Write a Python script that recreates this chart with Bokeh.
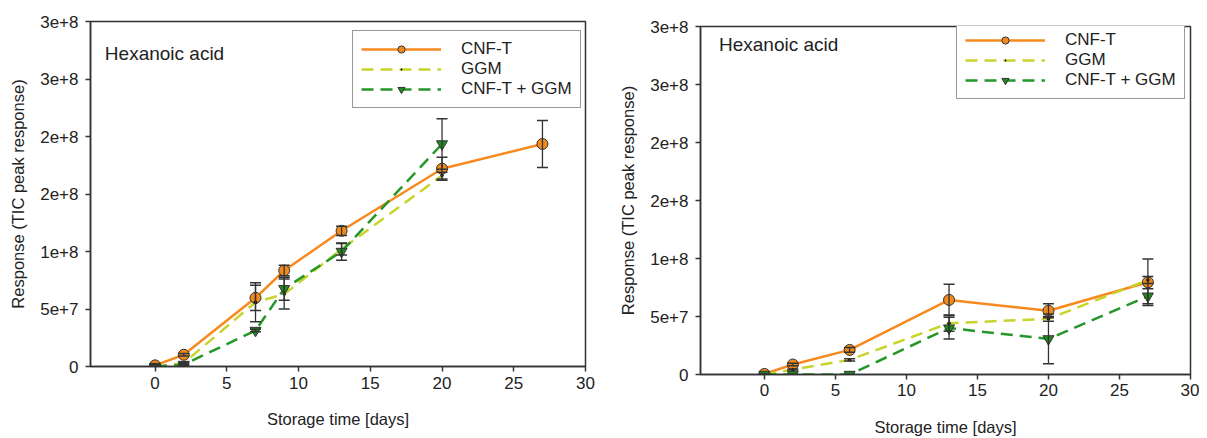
from bokeh.plotting import figure
from bokeh.models import (ColumnDataSource, Whisker, TeeHead, FixedTicker, Legend,
                          LegendItem, Label, Range1d, Spacer)
from bokeh.layouts import row, column
from bokeh.embed import file_html
from bokeh.resources import INLINE

# ---------------- data ----------------
# Left panel
days_a = [0, 2, 7, 9, 13, 20, 27]
cnf_a = [0.1e7, 1.02e7, 5.97e7, 8.35e7, 1.18e8, 1.72e8, 1.935e8]
cnf_a_err = [0.1e7, 0.1e7, 1.1e7, 0.45e7, 0.4e7, 1.0e7, 2.05e7]
days_a2 = [0, 2, 7, 9, 13, 20]
ggm_a = [0.0, 0.3e7, 5.59e7, 6.3e7, 1.02e8, 1.66e8]
ggm_a_err = [0.0, 0.1e7, 1.7e7, 1.3e7, 0.5e7, 0.3e7]
mix_a = [0.0, 0.17e7, 3.13e7, 6.76e7, 1.0e8, 1.935e8]
mix_a_err = [0.0, 0.1e7, 0.1e7, 1.0e7, 0.75e7, 2.2e7]

# Right panel
days_b = [0, 2, 6, 13, 20, 27]
cnf_b = [0.05e7, 0.86e7, 2.12e7, 6.43e7, 5.5e7, 7.95e7]
cnf_b_err = [0.0, 0.1e7, 0.2e7, 1.35e7, 0.6e7, 2.0e7]
ggm_b = [0.0, 0.43e7, 1.26e7, 4.42e7, 4.8e7, 8.15e7]
ggm_b_err = [0.0, 0.05e7, 0.1e7, 0.7e7, 0.2e7, 0.3e7]
mix_b = [0.0, 0.0, 0.0, 4.0e7, 3.07e7, 6.75e7]
mix_b_err = [0.0, 0.0, 0.0, 0.93e7, 2.15e7, 0.65e7]

series_names = ["CNF-T", "GGM", "CNF-T + GGM"]
panel_title = "Hexanoic acid"
x_label = "Storage time [days]"
y_label = "Response (TIC peak response)"
x_ticks = [0, 5, 10, 15, 20, 25, 30]
y_ticks = [0, 5e7, 1e8, 1.5e8, 2e8, 2.5e8, 3e8]
y_tick_labels = ["0", "5e+7", "1e+8", "2e+8", "2e+8", "3e+8", "3e+8"]

FONT = "Liberation Sans"
TXT = "#222222"
AX = "#333333"
C_ORANGE = "#F7891F"
C_ORANGE_FILL = "#F08A1C"
C_YG = "#C8D42C"
C_GREEN = "#24962A"
C_GREEN_FILL = "#1E8C1E"


def make_panel(width, height, mb_left, mb_right, mb_top, mb_bottom,
               xs1, s1, e1, xs2, s2, e2, xs3, s3, e3,
               legend_loc, title_xy, tick_standoff, xlab_standoff):
    p = figure(width=width, height=height, output_backend="svg",
               toolbar_location=None, x_range=Range1d(-4.5, 30),
               y_range=Range1d(0, 3e8), min_border_left=mb_left,
               min_border_right=mb_right, min_border_top=mb_top,
               min_border_bottom=mb_bottom)
    p.grid.visible = False
    p.outline_line_color = AX
    p.outline_line_width = 1.5
    p.background_fill_color = "white"

    p.xaxis.ticker = FixedTicker(ticks=x_ticks)
    p.yaxis.ticker = FixedTicker(ticks=y_ticks)
    p.yaxis.major_label_overrides = {v: l for v, l in zip(y_ticks, y_tick_labels)}
    for ax in (p.xaxis[0], p.yaxis[0]):
        ax.axis_line_color = AX
        ax.axis_line_width = 1.5
        ax.major_tick_line_color = AX
        ax.major_tick_line_width = 1.5
        ax.major_tick_in = 0
        ax.major_tick_out = 5
        ax.minor_tick_line_color = None
        ax.major_label_text_font = FONT
        ax.major_label_text_font_size = "17px"
        ax.major_label_text_color = TXT
        ax.axis_label_text_font = FONT
        ax.axis_label_text_font_size = "16.5px"
        ax.axis_label_text_font_style = "normal"
        ax.axis_label_text_color = TXT
    p.xaxis.axis_label = x_label
    p.yaxis.axis_label = y_label
    p.xaxis.major_label_standoff = tick_standoff
    p.xaxis.axis_label_standoff = xlab_standoff
    p.yaxis.major_label_standoff = 7
    p.yaxis.axis_label_standoff = 10

    # lines
    l1 = p.line(xs1, s1, line_color=C_ORANGE, line_width=2.5)
    l2 = p.line(xs2, s2, line_color=C_YG, line_width=2.5, line_dash="12 7")
    l3 = p.line(xs3, s3, line_color=C_GREEN, line_width=2.5, line_dash="12 7")

    # error bars
    for xs, s, e in ((xs1, s1, e1), (xs2, s2, e2), (xs3, s3, e3)):
        src = ColumnDataSource(dict(x=xs, lo=[a - b for a, b in zip(s, e)],
                                    hi=[a + b for a, b in zip(s, e)]))
        w = Whisker(base="x", lower="lo", upper="hi", source=src,
                    line_color=AX, line_width=1.3, level="overlay",
                    upper_head=TeeHead(size=11, line_color=AX, line_width=1.5),
                    lower_head=TeeHead(size=11, line_color=AX, line_width=1.5))
        p.add_layout(w)

    # markers
    m1 = p.scatter(xs1, s1, marker="circle", size=11, fill_color=C_ORANGE_FILL,
                   line_color=AX, line_width=1)
    m2 = p.scatter(xs2, s2, marker="dot", size=14, fill_color="black",
                   line_color="black", line_width=1)
    m3 = p.scatter(xs3, s3, marker="inverted_triangle", size=11,
                   fill_color=C_GREEN_FILL, line_color=AX, line_width=1)

    legend = Legend(items=[LegendItem(label=series_names[0], renderers=[l1, m1]),
                           LegendItem(label=series_names[1], renderers=[l2, m2]),
                           LegendItem(label=series_names[2], renderers=[l3, m3])],
                    location=legend_loc, orientation="vertical",
                    border_line_color=AX, border_line_width=1.5,
                    background_fill_color="white", background_fill_alpha=1,
                    label_text_font=FONT, label_text_font_size="17px",
                    label_text_color=TXT, padding=8, spacing=-3,
                    label_height=18, glyph_height=18, glyph_width=80,
                    label_standoff=20, margin=0)
    p.add_layout(legend)

    p.add_layout(Label(x=title_xy[0], y=title_xy[1], text=panel_title,
                       text_font=FONT, text_font_size="19px", text_color=TXT,
                       text_baseline="middle", text_align="left"))
    return p


left = make_panel(604, 438, 90, 19, 21, 72,
                  days_a, cnf_a, cnf_a_err,
                  days_a2, ggm_a, ggm_a_err,
                  days_a2, mix_a, mix_a_err,
                  legend_loc=(262, 258), title_xy=(-3.5, 2.72e8),
                  tick_standoff=5, xlab_standoff=18)
right = make_panel(595, 433, 96, 9, 21, 64,
                   days_b, cnf_b, cnf_b_err,
                   days_b, ggm_b, ggm_b_err,
                   days_b, mix_b, mix_b_err,
                   legend_loc=(256, 275), title_xy=(-3.2, 2.845e8),
                   tick_standoff=4, xlab_standoff=19)

layout = row(left, column(Spacer(width=595, height=5), right))
open("out.html", "w").write(file_html(layout, INLINE))
